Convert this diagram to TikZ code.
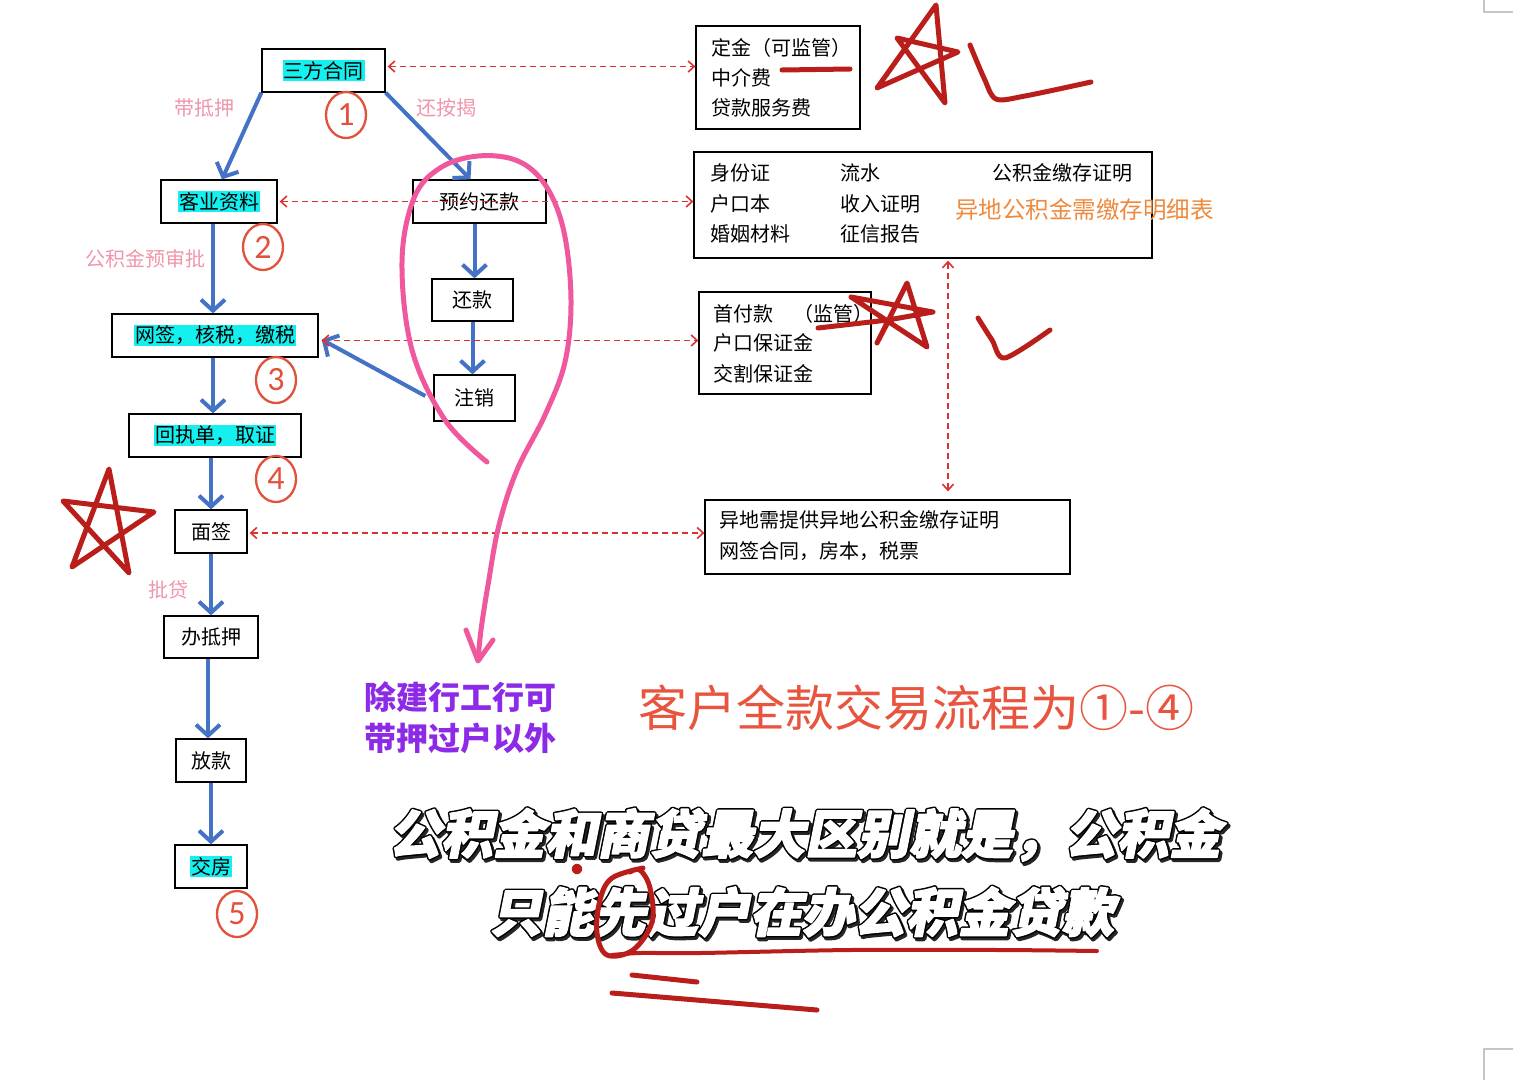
\documentclass[tikz,border=0pt]{standalone}
\usepackage{fontspec}
\setmainfont{Noto Sans CJK SC}
\newfontfamily\numfont{Carlito}
\newfontfamily\capfont[FakeSlant=0.2]{Noto Sans CJK SC}
\usetikzlibrary{arrows.meta,shapes.geometric}
\definecolor{flowblue}{RGB}{68,114,196}
\definecolor{dashred}{RGB}{222,50,50}
\definecolor{hlcyan}{RGB}{20,240,240}
\definecolor{numred}{RGB}{226,82,58}
\definecolor{pinklab}{RGB}{240,150,170}
\definecolor{orangetx}{RGB}{238,138,62}
\definecolor{purpletx}{RGB}{140,42,232}
\definecolor{captred}{RGB}{232,84,62}
\definecolor{handred}{RGB}{186,30,26}
\definecolor{loopink}{RGB}{240,88,158}
\newcommand{\hlt}[1]{{\setlength{\fboxsep}{1pt}\colorbox{hlcyan}{#1}}}
\newcommand{\outl}[1]{%
  \rlap{\hspace{2pt}\raisebox{-2.5pt}{\color{black!85}\special{pdf:literal direct 1 j 4.5 w 2 Tr}#1\special{pdf:literal direct 0 Tr}}}%
  \rlap{\color{black}\special{pdf:literal direct 1 j 4.5 w 2 Tr}#1\special{pdf:literal direct 0 Tr}}%
  {\color{white}\special{pdf:literal direct 1 j 1.5 w 2 Tr}#1\special{pdf:literal direct 0 Tr 1 w 0 j}}}
\begin{document}
\begin{tikzpicture}[x=1pt,y=-1pt,
  box/.style={draw, line width=1.3pt, inner sep=0pt, font=\fontsize{20}{24}\selectfont},
  txt/.style={anchor=west, inner sep=0pt, font=\fontsize{20}{24}\selectfont},
  blueflow/.style={draw=flowblue, line width=4pt, -{Straight Barb[length=11pt,width=24pt]}},
  reddash/.style={draw=dashred, line width=1.6pt, dash pattern=on 6pt off 4pt,
     {Straight Barb[length=6pt,width=11pt]}-{Straight Barb[length=6pt,width=11pt]}},
  cnum/.style={ellipse, draw=numred, line width=2.3pt, minimum width=40pt, minimum height=46pt,
     inner sep=0pt, text=numred, font=\numfont\fontsize{34}{34}\selectfont},
  pinklab/.style={inner sep=0pt, text=pinklab, font=\fontsize{20}{24}\selectfont},
  handred/.style={draw=handred, line width=5pt, line cap=round, line join=round},
  loop/.style={draw=loopink, line width=5pt, line cap=round, line join=round},
  capt/.style={inner sep=0pt, font=\capfont\bfseries\fontsize{52}{52}\selectfont}
]
\useasboundingbox (0,0) rectangle (1513,1080);
\fill[white] (0,0) rectangle (1513,1080);

% page corner marks
\draw[gray!45, line width=1.5pt] (1484,0) -- (1484,12) -- (1513,12);
\draw[gray!45, line width=1.5pt] (1484,1080) -- (1484,1049) -- (1513,1049);

% left column boxes
\node[box, minimum width=123pt, minimum height=43pt] (n1) at (323.5,70.5) {\hlt{三方合同}\hspace{12pt}};
\node[box, minimum width=116pt, minimum height=43pt] (n2) at (219,201.5) {\hlt{客业资料}\hspace{4pt}};
\node[box, minimum width=206pt, minimum height=43pt] (n3) at (215,335.5) {\hlt{网签，核税，缴税}\hspace{6pt}};
\node[box, minimum width=172pt, minimum height=43pt] (n4) at (215,435.5) {\hlt{回执单，取证}\hspace{10pt}};
\node[box, minimum width=72pt, minimum height=43pt] (n5) at (211,531.5) {面签};
\node[box, minimum width=94pt, minimum height=42pt] (n6) at (211,637) {办抵押};
\node[box, minimum width=70pt, minimum height=43pt] (n7) at (211,760.5) {放款};
\node[box, minimum width=72pt, minimum height=43pt] (n8) at (211,866.5) {\hlt{交房}};

% right column boxes
\node[box, minimum width=133pt, minimum height=43pt] (r1) at (479.5,201.5) {预约还款\hspace{18pt}};
\node[box, minimum width=81pt, minimum height=42pt] (r2) at (472.5,300) {还款\hspace{8pt}};
\node[box, minimum width=81pt, minimum height=46pt] (r3) at (474.5,398) {注销\hspace{10pt}};

% info boxes
\node[box, minimum width=164pt, minimum height=103pt] (bA) at (778,77.5) {};
\node[box, minimum width=458pt, minimum height=106pt] (bB) at (923,205) {};
\node[box, minimum width=172pt, minimum height=102pt] (bC) at (785,343) {};
\node[box, minimum width=365pt, minimum height=74pt] (bD) at (887.5,537) {};

\node[txt] (a1) at (711,48) {定金（可监管）};
\node[txt] (a2) at (711,78) {中介费};
\node[txt] (a3) at (711,108) {贷款服务费};

\node[txt] (b11) at (710,173) {身份证};
\node[txt] (b12) at (710,204) {户口本};
\node[txt] (b13) at (710,234) {婚姻材料};
\node[txt] (b21) at (840,173) {流水};
\node[txt] (b22) at (840,204) {收入证明};
\node[txt] (b23) at (840,234) {征信报告};
\node[txt] (b31) at (992,173) {公积金缴存证明};
\node[txt, text=orangetx, font=\fontsize{23.5}{26}\selectfont] (b32) at (955,210) {异地公积金需缴存明细表};

\node[txt] (c1t) at (713,314) {首付款　（监管）};
\node[txt] (c2t) at (713,343) {户口保证金};
\node[txt] (c3t) at (713,374) {交割保证金};

\node[txt] (d1) at (719,520) {异地需提供异地公积金缴存证明};
\node[txt] (d2) at (719,551) {网签合同，房本，税票};

% pink labels
\node[pinklab] (l1) at (204,108) {带抵押};
\node[pinklab] (l2) at (446,108) {还按揭};
\node[pinklab] (l3) at (145,259) {公积金预审批};
\node[pinklab] (l4) at (168,590) {批贷};

% circled numbers
\node[cnum] (k1) at (346,115) {1};
\node[cnum] (k2) at (263,247) {2};
\node[cnum] (k3) at (276,380) {3};
\node[cnum] (k4) at (276,479) {4};
\node[cnum] (k5) at (237,914) {5};

% blue flow arrows
\draw[blueflow] (n1.south west) -- ([xshift=3pt]n2.north);
\draw[blueflow] (n1.south east) -- ([xshift=-9pt]r1.north);
\draw[blueflow] ([xshift=-6pt]n2.south) -- ([xshift=-6pt]n2.south |- n3.north);
\draw[blueflow] ([xshift=-2pt]n3.south) -- ([xshift=-2pt]n3.south |- n4.north);
\draw[blueflow] (n4.south -| n5) -- (n5.north);
\draw[blueflow] (n5.south) -- (n5.south |- n6.north);
\draw[blueflow] ([xshift=-3pt]n6.south) -- ([xshift=-3pt]n6.south |- n7.north);
\draw[blueflow] (n7.south) -- (n7.south |- n8.north);
\draw[blueflow] ([xshift=-5pt]r1.south) -- ([xshift=-5pt]r1.south |- r2.north);
\draw[blueflow] (r2.south) -- (r2.south |- r3.north);
\draw[blueflow] ([xshift=-8pt,yshift=2pt]r3.west) -- ([xshift=3pt,yshift=-4pt]n3.east);

% red dashed connectors
\draw[reddash] ([xshift=2pt,yshift=4pt]n1.east) -- ([yshift=4pt]n1.east -| bA.west);
\draw[reddash] ([xshift=2pt]n2.east) -- (n2.east -| bB.west);
\draw[reddash] ([xshift=3pt,yshift=-5pt]n3.east) -- ([yshift=-5pt]n3.east -| bC.west);
\draw[reddash] ([xshift=2pt,yshift=-1.5pt]n5.east) -- ([yshift=-1.5pt]n5.east -| bD.west);
\coordinate (vtop) at ([xshift=25pt,yshift=-2pt]bB.south);
\coordinate (vbot) at ([xshift=25pt,yshift=8pt]bB.south |- bD.north);
\draw[reddash] (vtop) -- (vbot);

% purple note
\node[inner sep=0pt, text=purpletx, font=\bfseries\fontsize{32}{32}\selectfont] (p1) at (460,697) {除建行工行可};
\node[inner sep=0pt, text=purpletx, font=\bfseries\fontsize{32}{32}\selectfont] (p2) at (460,738) {带押过户以外};

% red caption
\node[inner sep=0pt, text=captred, font=\fontsize{49}{49}\selectfont] (rc) at (916,708) {客户全款交易流程为①-④};

% outlined caption
\node[capt] (cap1) at (805,836) {\outl{公积金和商贷最大区别就是，公积金}};
\node[capt] (cap2) at (802,913) {\outl{只能先过户在办公积金贷款}};

% pink hand-drawn loop
\draw[loop] plot[smooth, tension=0.6] coordinates {(487,462) (445,420) (412,350) (402,262) (414,198) (440,168) (478,156) (518,161) (546,186) (564,232) (571,300) (565,362) (545,415) (517,470) (499,525) (488,585) (481,630) (478,660)};
\draw[loop] (466,630) -- (478,661) -- (493,640);

% red hand marks
\draw[handred] (877,88) -- (936,5) -- (945,103) -- (897,38) -- (958,52) -- cycle;
\draw[handred] plot[smooth, tension=0.5] coordinates {(970,45) (984,78) (996,99) (1025,96) (1091,82)};
\draw[handred] (782,70) -- (850,69);
\draw[handred] (818,328) -- (888,320) -- (933,312) -- (851,297) -- (927,347) -- (907,283) -- (877,343) -- (890,318);
\draw[handred] plot[smooth, tension=0.5] coordinates {(978,318) (992,340) (1005,358) (1050,330)};
\draw[handred] (72,567) -- (109,469) -- (129,573) -- (63,501) -- (154,512) -- cycle;
\draw[handred] plot[smooth, tension=0.6] coordinates {(643,868) (612,878) (600,900) (597,933) (607,955) (633,950) (652,922) (650,888) (640,870) (630,872)};
\draw[handred, line width=4pt] plot[smooth, tension=0.5] coordinates {(612,955) (640,953) (700,953) (850,950) (1000,950) (1097,951)};
\draw[handred] (632,975) -- (697,982);
\draw[handred] (612,993) -- (817,1010);
\fill[handred] (577,869) circle (2.8);
\end{tikzpicture}
\end{document}
